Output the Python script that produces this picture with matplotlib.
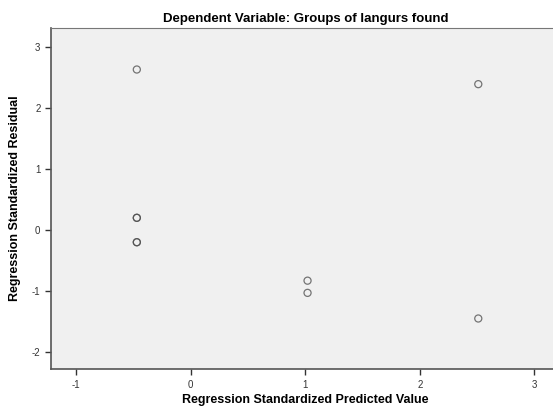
import matplotlib
matplotlib.use('Agg')
import matplotlib.pyplot as plt

# 회귀 잔차 데이터
predicted = [-0.47, -0.47, -0.47, -0.47, -0.47, 1.02, 1.02, 2.51, 2.51]
residual = [2.63, 0.20, 0.20, -0.20, -0.20, -0.83, -1.03, 2.39, -1.45]

xticks = [-1, 0, 1, 2, 3]
yticks = [-2, -1, 0, 1, 2, 3]

plt.rcParams['font.family'] = ['Liberation Sans', 'DejaVu Sans']
plt.rcParams['axes.unicode_minus'] = False

fig = plt.figure(figsize=(5.53, 4.12), dpi=100)
ax = fig.add_axes([0.092, 0.104, 0.92, 0.828])
ax.set_facecolor('#f0f0f0')

ax.scatter(predicted, residual, s=26, facecolors='none', edgecolors='#4a4a4a',
           linewidths=0.9, alpha=0.75)

ax.set_xlim(-1.22, 3.22)
ax.set_ylim(-2.28, 3.31)
ax.set_xticks(xticks)
ax.set_yticks(yticks)
ax.tick_params(labelsize=7, colors='#333333', length=4, width=1)

for side in ['top', 'right']:
    ax.spines[side].set_color('#777777')
for side in ['left', 'bottom']:
    ax.spines[side].set_color('#555555')
    ax.spines[side].set_linewidth(1.2)

ax.set_xlabel('Regression Standardized Predicted Value', fontsize=9, fontweight='bold', labelpad=3)
ax.set_ylabel('Regression Standardized Residual', fontsize=9, fontweight='bold', labelpad=8)
ax.set_title('Dependent Variable: Groups of langurs found', fontsize=9.5, fontweight='bold', pad=4)

fig.savefig('out.png', dpi=100)
